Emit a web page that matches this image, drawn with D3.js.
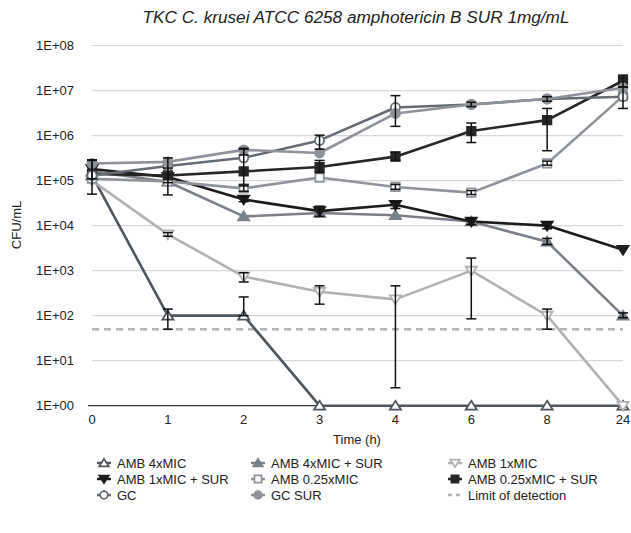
<!DOCTYPE html>
<html><head><meta charset="utf-8">
<script src="https://cdn.jsdelivr.net/npm/d3@7"></script>
<style>body{margin:0;background:#fff;} text{font-family:"Liberation Sans",Arial,Helvetica,sans-serif;}</style>
</head><body><svg id="c" width="631" height="533"></svg>
<script>
const categories = ["0","1","2","3","4","6","8","24"];
const yTicks = [1,1e1,1e2,1e3,1e4,1e5,1e6,1e7,1e8];
const yTickLabels = ["1E+00","1E+01","1E+02","1E+03","1E+04","1E+05","1E+06","1E+07","1E+08"];
const limitOfDetection = 50;

const seriesNames = ["AMB 4xMIC","AMB 4xMIC + SUR","AMB 1xMIC","AMB 1xMIC + SUR","AMB 0.25xMIC","AMB 0.25xMIC + SUR","GC","GC SUR"];
const amb4 =        [1.3e5, 100, 100, 1, 1, 1, 1, 1];
const amb4Sur =     [1.6e5, 9.4e4, 1.6e4, 1.9e4, 1.7e4, 1.23e4, 4.4e3, 100];
const amb1 =        [1.0e5, 6.4e3, 740, 340, 230, 1000, 100, 1];
const amb1Sur =     [1.8e5, 1.2e5, 3.8e4, 2.1e4, 2.9e4, 1.23e4, 1.0e4, 2.9e3];
const amb025 =      [1.1e5, 9.6e4, 6.7e4, 1.17e5, 7.2e4, 5.4e4, 2.4e5, 7.5e6];
const amb025Sur =   [1.4e5, 1.3e5, 1.6e5, 2.0e5, 3.4e5, 1.26e6, 2.2e6, 1.65e7];
const gc =          [1.3e5, 2.1e5, 3.2e5, 7.8e5, 4.2e6, 4.9e6, 6.5e6, 7.3e6];
const gcSur =       [2.4e5, 2.6e5, 4.8e5, 4.1e5, 3.1e6, 4.9e6, 6.5e6, 1.15e7];

// error bars [low, high] per point (null = none)
const amb4Err =      [null, [50,140], [100,260], null, null, null, null, null];
const amb4SurErr =   [null, null, null, null, null, null, [3.8e3,5.2e3], [90,115]];
const amb1Err =      [null, [5.8e3,7.0e3], [560,900], [180,460], [2.5,460], [85,1900], [50,140], null];
const amb1SurErr =   [null, [4.8e4,3.2e5], [3.4e4,4.4e4], [1.6e4,2.7e4], [2.4e4,3.4e4], [1.05e4,1.45e4], [8.5e3,1.2e4], null];
const amb025Err =    [[5e4,2.9e5], null, [5.8e4,7.6e4], null, [6.4e4,8.2e4], [4.9e4,6e4], [2.2e5,2.7e5], [4e6,1.2e7]];
const amb025SurErr = [[1.1e5,2.8e5], [9e4,1.9e5], [8e4,5e5], [1.5e5,2.8e5], [2.8e5,4.3e5], [7e5,1.9e6], [4.6e5,4e6], [1.2e7,2.2e7]];
const gcErr =        [null, null, null, [5e5,1.02e6], null, null, [5.8e6,7.3e6], null];
const gcSurErr =     [null, null, [3.7e5,5.2e5], null, [1.6e6,7.7e6], [4.4e6,5.5e6], null, null];

const seriesValues = [amb4, amb4Sur, amb1, amb1Sur, amb025, amb025Sur, gc, gcSur];
const seriesErrors = [amb4Err, amb4SurErr, amb1Err, amb1SurErr, amb025Err, amb025SurErr, gcErr, gcSurErr];
const seriesColors = ["#4e555c","#7b8088","#b1b1b1","#1c1c1c","#8f949b","#262626","#666c73","#8e9399"];
const seriesShapes = ["triUp","triUp","triDown","triDown","square","square","circle","circle"];
const seriesFilled = [false,true,false,true,false,true,false,true];

const svg = d3.select("#c");
const x = d3.scalePoint().domain(categories).range([92, 623]);
const y = d3.scaleLog().domain([1, 1e8]).range([405.7, 45.5]);

// title
svg.append("text").attr("x", 356).attr("y", 23).attr("text-anchor","middle")
  .attr("font-size", 17.2).attr("font-style","italic").attr("fill","#222")
  .text("TKC C. krusei ATCC 6258 amphotericin B SUR 1mg/mL");

// gridlines
svg.append("g").selectAll("line").data(yTicks.slice(1)).join("line")
  .attr("x1", 92).attr("x2", 623).attr("y1", d=>y(d)).attr("y2", d=>y(d))
  .attr("stroke","#d8d8d8").attr("stroke-width",1.2);

// y axis labels
svg.append("g").selectAll("text").data(yTicks).join("text")
  .attr("x", 74).attr("y", d=>y(d)+4.5).attr("text-anchor","end")
  .attr("font-size", 13).attr("fill","#222").text((d,i)=>yTickLabels[i]);

// x axis line
svg.append("line").attr("x1",88).attr("x2",623).attr("y1",y(1)).attr("y2",y(1))
  .attr("stroke","#333").attr("stroke-width",1.3);
svg.append("g").selectAll("text").data(categories).join("text")
  .attr("x", d=>x(d)).attr("y", y(1)+18).attr("text-anchor","middle")
  .attr("font-size",13).attr("fill","#222").text(d=>d);

svg.append("text").attr("x",357).attr("y",444).attr("text-anchor","middle")
  .attr("font-size",13).attr("fill","#222").text("Time (h)");
svg.append("text").attr("transform","translate(21,225) rotate(-90)").attr("text-anchor","middle")
  .attr("font-size",13).attr("fill","#222").text("CFU/mL");

// limit of detection
svg.append("line").attr("x1",92).attr("x2",623).attr("y1",y(limitOfDetection)).attr("y2",y(limitOfDetection))
  .attr("stroke","#b5b5b5").attr("stroke-width",2.5).attr("stroke-dasharray","7,5");

function symbolPath(shape, size){
  const s = size;
  if(shape==="triUp") return `M0,${-s*0.75}L${s*0.85},${s*0.6}L${-s*0.85},${s*0.6}Z`;
  if(shape==="triDown") return `M0,${s*0.75}L${s*0.85},${-s*0.6}L${-s*0.85},${-s*0.6}Z`;
  if(shape==="square") return `M${-s*0.65},${-s*0.65}H${s*0.65}V${s*0.65}H${-s*0.65}Z`;
  return d3.symbol(d3.symbolCircle, Math.PI*(s*0.7)*(s*0.7))();
}

const line = d3.line().x((d,i)=>x(categories[i])).y(d=>y(d));
const g = svg.append("g");
seriesValues.forEach((vals, si)=>{
  const col = seriesColors[si];
  g.append("path").attr("d", line(vals)).attr("fill","none")
    .attr("stroke", col).attr("stroke-width",2.6).attr("stroke-linejoin","round");
});
seriesValues.forEach((vals, si)=>{
  const col = seriesColors[si];
  g.append("g").selectAll("path").data(vals).join("path")
    .attr("transform",(d,i)=>`translate(${x(categories[i])},${y(d)})`)
    .attr("d", symbolPath(seriesShapes[si], 6.5))
    .attr("fill", seriesFilled[si] ? col : "#fff")
    .attr("stroke", col).attr("stroke-width", 1.8);
});
// error bars
seriesErrors.forEach((errs, si)=>{
  errs.forEach((e,i)=>{
    if(!e) return;
    const cx = x(categories[i]);
    const eg = g.append("g").attr("stroke","#111").attr("stroke-width",1.5);
    eg.append("line").attr("x1",cx).attr("x2",cx).attr("y1",y(e[0])).attr("y2",y(e[1]));
    eg.append("line").attr("x1",cx-5).attr("x2",cx+5).attr("y1",y(e[0])).attr("y2",y(e[0]));
    eg.append("line").attr("x1",cx-5).attr("x2",cx+5).attr("y1",y(e[1])).attr("y2",y(e[1]));
  });
});

// legend
const legendItems = seriesNames.map((n,i)=>({name:n, color:seriesColors[i], shape:seriesShapes[i], filled:seriesFilled[i]}));
legendItems.push({name:"Limit of detection", color:"#b5b5b5", shape:"dash"});
const colX = [104, 258, 455];
const rowY = [463, 479, 495];
const lg = svg.append("g");
legendItems.forEach((it, k)=>{
  const cx = colX[k%3], cy = rowY[Math.floor(k/3)];
  const item = lg.append("g").attr("transform",`translate(${cx},${cy})`);
  if(it.shape==="dash"){
    item.append("line").attr("x1",-7).attr("x2",7).attr("y1",0).attr("y2",0)
      .attr("stroke",it.color).attr("stroke-width",2.5).attr("stroke-dasharray","4,4");
  } else {
    item.append("line").attr("x1",-7).attr("x2",7).attr("y1",0).attr("y2",0)
      .attr("stroke",it.color).attr("stroke-width",2.5);
    item.append("path").attr("d", symbolPath(it.shape, 5.5))
      .attr("fill", it.filled ? it.color : "#fff").attr("stroke", it.color).attr("stroke-width",1.8);
  }
  item.append("text").attr("x",13).attr("y",4.7).attr("font-size",13).attr("fill","#222").text(it.name);
});
</script></body></html>
